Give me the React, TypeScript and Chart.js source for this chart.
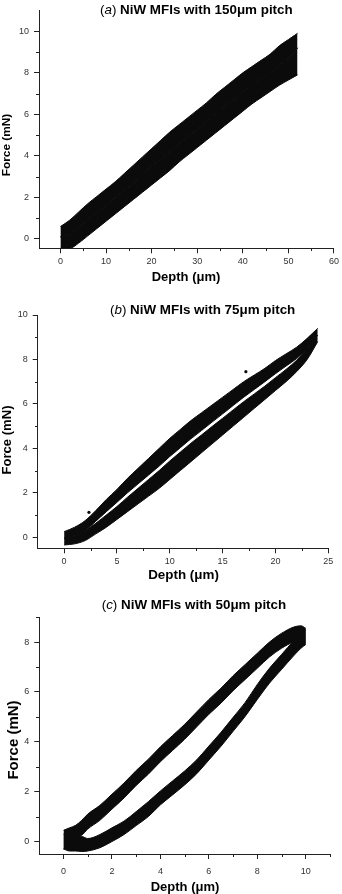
import React, { useEffect, useRef } from 'react';
import { Chart, registerables } from 'chart.js';

Chart.register(...registerables);

const FONT = '"Liberation Sans", Arial, Helvetica, sans-serif';
const AXIS = '#222';
const INK = '#0b0b0b';

// ---------- (a) 150 um pitch ----------
const depthA = [0, 2, 4, 6, 8, 10, 12, 14, 16, 18, 20, 22, 24, 26, 28, 30, 32, 34, 36, 38, 40, 42, 44, 46, 48, 50, 52];
const unloadHiA = [0.6, 0.9, 1.3, 1.7, 2.05, 2.4, 2.75, 3.15, 3.55, 3.95, 4.35, 4.75, 5.15, 5.5, 5.85, 6.2, 6.55, 6.95, 7.3, 7.65, 8.0, 8.3, 8.6, 8.9, 9.3, 9.6, 9.9];
const unloadLoA = [0.1, 0.2, 0.55, 0.95, 1.3, 1.6, 2.0, 2.35, 2.7, 3.1, 3.5, 3.85, 4.2, 4.6, 4.95, 5.3, 5.65, 6.0, 6.4, 6.7, 7.1, 7.4, 7.7, 8.0, 8.35, 8.7, 9.2];
const loadHiA = [0.1, 0.2, 0.55, 0.95, 1.3, 1.6, 2.0, 2.35, 2.7, 3.1, 3.5, 3.85, 4.2, 4.6, 4.95, 5.3, 5.65, 6.0, 6.4, 6.7, 7.1, 7.4, 7.7, 8.0, 8.35, 8.7, 9.2];
const loadLoA = [-0.45, -0.45, -0.2, 0.15, 0.5, 0.85, 1.2, 1.55, 1.9, 2.25, 2.6, 2.95, 3.3, 3.7, 4.05, 4.4, 4.75, 5.1, 5.45, 5.8, 6.15, 6.5, 6.8, 7.1, 7.4, 7.65, 7.9];
const outDepthA: number[] = [];
const outForceA: number[] = [];
const xTicksA = [0, 10, 20, 30, 40, 50, 60];
const xMinorA = [5, 15, 25, 35, 45, 55];
const yTicksA = [0, 2, 4, 6, 8, 10];
const yMinorA = [1, 3, 5, 7, 9];

// ---------- (b) 75 um pitch ----------
const depthB = [0, 1, 2, 3, 4, 5, 6, 7, 8, 9, 10, 11, 12, 13, 14, 15, 16, 17, 18, 19, 20, 21, 22, 23, 24];
const unloadHiB = [0.25, 0.45, 0.75, 1.2, 1.7, 2.15, 2.65, 3.1, 3.55, 4.0, 4.45, 4.85, 5.25, 5.6, 5.95, 6.3, 6.65, 7.0, 7.3, 7.6, 7.95, 8.25, 8.55, 8.95, 9.4];
const unloadLoB = [-0.05, 0.08, 0.3, 0.72, 1.15, 1.57, 2.0, 2.4, 2.8, 3.2, 3.63, 4.03, 4.43, 4.8, 5.18, 5.55, 5.93, 6.3, 6.65, 7.0, 7.36, 7.7, 8.04, 8.48, 9.1];
const loadHiB = [-0.05, 0.08, 0.3, 0.63, 1.0, 1.38, 1.8, 2.2, 2.6, 3.0, 3.43, 3.83, 4.23, 4.6, 4.98, 5.35, 5.73, 6.1, 6.45, 6.8, 7.18, 7.55, 7.96, 8.48, 9.1];
const loadLoB = [-0.35, -0.3, -0.15, 0.15, 0.45, 0.8, 1.15, 1.5, 1.85, 2.2, 2.6, 3.0, 3.4, 3.8, 4.2, 4.6, 5.0, 5.4, 5.8, 6.2, 6.6, 7.0, 7.45, 8.0, 8.8];
const outDepthB = [2.35, 17.2];
const outForceB = [1.12, 7.45];
const xTicksB = [0, 5, 10, 15, 20, 25];
const xMinorB = [2.5, 7.5, 12.5, 17.5, 22.5];
const yTicksB = [0, 2, 4, 6, 8, 10];
const yMinorB = [1, 3, 5, 7, 9];

// ---------- (c) 50 um pitch ----------
const depthC = [0, 0.25, 0.5, 0.75, 1, 1.5, 2, 2.5, 3, 3.5, 4, 4.5, 5, 5.5, 6, 6.5, 7, 7.5, 8, 8.5, 9, 9.5, 9.8, 10];
const unloadHiC = [0.45, 0.55, 0.65, 0.85, 1.1, 1.45, 1.9, 2.35, 2.85, 3.3, 3.8, 4.25, 4.7, 5.2, 5.7, 6.15, 6.65, 7.1, 7.55, 8.0, 8.35, 8.6, 8.65, 8.55];
const unloadLoC = [-0.3, -0.1, 0.15, 0.25, 0.5, 0.85, 1.3, 1.75, 2.25, 2.7, 3.2, 3.65, 4.1, 4.6, 5.1, 5.55, 6.05, 6.5, 6.95, 7.4, 7.75, 8.0, 8.05, 7.95];
const loadHiC = [0.3, 0.25, 0.2, 0.2, 0.12, 0.28, 0.55, 0.82, 1.2, 1.6, 2.03, 2.43, 2.83, 3.28, 3.83, 4.38, 4.98, 5.58, 6.3, 6.95, 7.5, 8.05, 8.35, 8.5];
const loadLoC = [-0.3, -0.38, -0.38, -0.4, -0.38, -0.25, 0.0, 0.28, 0.64, 1.0, 1.47, 1.87, 2.27, 2.72, 3.27, 3.82, 4.42, 5.02, 5.7, 6.35, 6.9, 7.45, 7.75, 7.9];
const outDepthC: number[] = [];
const outForceC: number[] = [];
const xTicksC = [0, 2, 4, 6, 8, 10];
const xMinorC = [1, 3, 5, 7, 9, 11];
const yTicksC = [0, 2, 4, 6, 8];
const yMinorC = [1, 3, 5, 7, 9];

type Panel = {
  letter: string;
  title: string;
  height: number;
  area: { left: number; right: number; top: number; bottom: number };
  xRange: [number, number];
  yRange: [number, number];
  depth: number[];
  unloadHi: number[];
  unloadLo: number[];
  loadHi: number[];
  loadLo: number[];
  outDepth: number[];
  outForce: number[];
  xTicks: number[];
  xMinor: number[];
  yTicks: number[];
  yMinor: number[];
  titleX: number;
  titleBase: number;
  forceX: number;
  forceY: number;
  forceSize: number;
  depthX: number;
  depthY: number;
  depthSize: number;
  xLabelPad: number;
};

const PANELS: Panel[] = [
  {
    letter: 'a', title: 'NiW MFIs with 150\u03bcm pitch', height: 296,
    area: { left: 39, right: 334.5, top: 10.5, bottom: 248.3 },
    xRange: [-4.7, 60], yRange: [-0.45, 11],
    depth: depthA, unloadHi: unloadHiA, unloadLo: unloadLoA, loadHi: loadHiA, loadLo: loadLoA,
    outDepth: outDepthA, outForce: outForceA,
    xTicks: xTicksA, xMinor: xMinorA, yTicks: yTicksA, yMinor: yMinorA,
    titleX: 100, titleBase: 13.5, forceX: 7, forceY: 145, forceSize: 11.8,
    depthX: 186, depthY: 277, depthSize: 13, xLabelPad: 3,
  },
  {
    letter: 'b', title: 'NiW MFIs with 75\u03bcm pitch', height: 296,
    area: { left: 37.7, right: 328.3, top: 19, bottom: 252.3 },
    xRange: [-2.5, 25], yRange: [-0.5, 10],
    depth: depthB, unloadHi: unloadHiB, unloadLo: unloadLoB, loadHi: loadHiB, loadLo: loadLoB,
    outDepth: outDepthB, outForce: outForceB,
    xTicks: xTicksB, xMinor: xMinorB, yTicks: yTicksB, yMinor: yMinorB,
    titleX: 110, titleBase: 17.5, forceX: 7, forceY: 144, forceSize: 13.1,
    depthX: 183.5, depthY: 279, depthSize: 13.4, xLabelPad: 3,
  },
  {
    letter: 'c', title: 'NiW MFIs with 50\u03bcm pitch', height: 302,
    area: { left: 39.3, right: 330, top: 25.1, bottom: 262 },
    xRange: [-1, 11], yRange: [-0.5, 9],
    depth: depthC, unloadHi: unloadHiC, unloadLo: unloadLoC, loadHi: loadHiC, loadLo: loadLoC,
    outDepth: outDepthC, outForce: outForceC,
    xTicks: xTicksC, xMinor: xMinorC, yTicks: yTicksC, yMinor: yMinorC,
    titleX: 101.7, titleBase: 17, forceX: 14, forceY: 148, forceSize: 15,
    depthX: 185, depthY: 295, depthSize: 13, xLabelPad: 7,
  },
];

const decorPlugin = {
  id: 'decor',
  afterDraw(chart: any, _args: any, opts: any) {
    const p: Panel = opts.panel;
    if (!p) return;
    const ctx: CanvasRenderingContext2D = chart.ctx;
    const xs = chart.scales.x;
    const ys = chart.scales.y;
    const ca = chart.chartArea;
    ctx.save();
    // minor ticks
    ctx.strokeStyle = AXIS;
    ctx.lineWidth = 1;
    ctx.beginPath();
    for (const v of p.xMinor) {
      const px = Math.round(xs.getPixelForValue(v)) + 0.5;
      const py = Math.round(ca.bottom);
      ctx.moveTo(px, py);
      ctx.lineTo(px, py + 3);
    }
    for (const v of p.yMinor) {
      const py = Math.round(ys.getPixelForValue(v)) + 0.5;
      const px = Math.round(ca.left);
      ctx.moveTo(px, py);
      ctx.lineTo(px - 3, py);
    }
    ctx.stroke();

    // title
    ctx.fillStyle = '#000';
    ctx.textBaseline = 'alphabetic';
    ctx.textAlign = 'left';
    const size = 13.4;
    const parts: [string, string][] = [
      ['(', `normal ${size}px ${FONT}`],
      [p.letter, `italic ${size}px ${FONT}`],
      [') ', `normal ${size}px ${FONT}`],
      [p.title, `bold ${size}px ${FONT}`],
    ];
    let cx = p.titleX;
    for (const [t, f] of parts) {
      ctx.font = f;
      ctx.fillText(t, cx, p.titleBase);
      cx += ctx.measureText(t).width;
    }

    // axis titles
    ctx.textAlign = 'center';
    ctx.textBaseline = 'middle';
    ctx.font = `bold ${p.depthSize}px ${FONT}`;
    ctx.fillText('Depth (\u03bcm)', p.depthX, p.depthY);
    ctx.translate(p.forceX, p.forceY);
    ctx.rotate(-Math.PI / 2);
    ctx.font = `bold ${p.forceSize}px ${FONT}`;
    ctx.fillText('Force (mN)', 0, 0);
    ctx.restore();
  },
};

function pts(xs: number[], ys: number[]) {
  return xs.map((x, i) => ({ x, y: ys[i] }));
}

function bandStyle(fill: any) {
  return {
    fill,
    borderColor: INK,
    backgroundColor: INK,
    borderWidth: 1,
    pointRadius: 0,
    cubicInterpolationMode: 'monotone',
  };
}

function buildConfig(p: Panel): any {
  const width = 342;
  return {
    type: 'line',
    data: {
      datasets: [
        { data: pts(p.depth, p.loadLo), ...bandStyle(false) },
        { data: pts(p.depth, p.loadHi), ...bandStyle('-1') },
        { data: pts(p.depth, p.unloadLo), ...bandStyle(false) },
        { data: pts(p.depth, p.unloadHi), ...bandStyle('-1') },
        {
          data: pts(p.outDepth, p.outForce),
          showLine: false,
          pointRadius: 1.6,
          pointBackgroundColor: INK,
          pointBorderWidth: 0,
          fill: false,
        },
      ],
    },
    options: {
      animation: false,
      responsive: false,
      maintainAspectRatio: false,
      devicePixelRatio: 1,
      layout: {
        padding: {
          left: 0,
          right: width - p.area.right,
          top: p.area.top,
          bottom: 0,
        },
      },
      plugins: {
        legend: { display: false },
        tooltip: { enabled: false },
        title: { display: false },
        decor: { panel: p },
      },
      scales: {
        x: {
          type: 'linear',
          min: p.xRange[0],
          max: p.xRange[1],
          afterBuildTicks: (s: any) => {
            s.ticks = p.xTicks.map((v) => ({ value: v }));
          },
          afterFit: (s: any) => {
            s.height = p.height - p.area.bottom;
          },
          grid: {
            display: true,
            drawOnChartArea: false,
            drawTicks: true,
            tickLength: 5,
            color: AXIS,
            lineWidth: 1,
          },
          border: { display: true, color: AXIS, width: 1 },
          ticks: {
            autoSkip: false,
            maxRotation: 0,
            padding: p.xLabelPad,
            color: '#333',
            font: { family: FONT, size: 9 },
            callback: (v: any) => String(v),
          },
        },
        y: {
          type: 'linear',
          min: p.yRange[0],
          max: p.yRange[1],
          afterBuildTicks: (s: any) => {
            s.ticks = p.yTicks.map((v) => ({ value: v }));
          },
          afterFit: (s: any) => {
            s.width = p.area.left;
          },
          grid: {
            display: true,
            drawOnChartArea: false,
            drawTicks: true,
            tickLength: 5,
            color: AXIS,
            lineWidth: 1,
          },
          border: { display: true, color: AXIS, width: 1 },
          ticks: {
            autoSkip: false,
            padding: 5,
            color: '#333',
            font: { family: FONT, size: 9 },
            callback: (v: any) => String(v),
          },
        },
      },
    },
    plugins: [decorPlugin],
  };
}

function PanelChart({ panel }: { panel: Panel }) {
  const ref = useRef<HTMLCanvasElement>(null);
  useEffect(() => {
    if (!ref.current) return;
    const chart = new Chart(ref.current, buildConfig(panel));
    return () => chart.destroy();
  }, [panel]);
  return (
    <canvas
      ref={ref}
      width={342}
      height={panel.height}
      style={{ display: 'block', width: 342, height: panel.height }}
    />
  );
}

export default function App() {
  return (
    <div style={{ position: 'absolute', left: 0, top: 0, width: 342, height: 894, background: '#fff' }}>
      {PANELS.map((p) => (
        <PanelChart key={p.letter} panel={p} />
      ))}
    </div>
  );
}
